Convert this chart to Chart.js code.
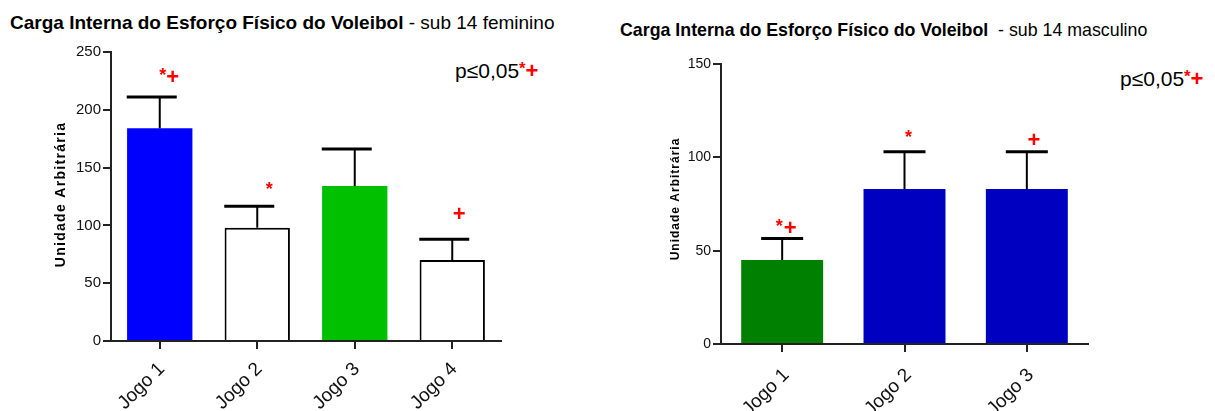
<!DOCTYPE html>
<html>
<head>
<meta charset="utf-8">
<script src="https://cdn.jsdelivr.net/npm/chart.js@4.4.0/dist/chart.umd.min.js"></script>
<style>
  body { margin: 0; width: 1215px; height: 411px; background: #fff; position: relative; overflow: hidden;
         font-family: "Liberation Sans", Arial, sans-serif; }
  canvas { position: absolute; top: 0; }
  .titulo { position: absolute; white-space: nowrap; color: #000; line-height: 1; }
  .pval { position: absolute; white-space: nowrap; color: #000; line-height: 1; }
  .ast { color: #f00; font-weight: bold; font-size: 0.8em; position: relative; top: -0.25em; }
  .cruz { color: #f00; font-weight: bold; font-size: 1.05em; }
</style>
</head>
<body>
<div class="titulo" style="left:10px; top:13px; font-size:19px;"><b>Carga Interna do Esforço Físico do Voleibol</b> - sub 14 feminino</div>
<div class="titulo" style="left:620px; top:22px; font-size:17.8px;"><b>Carga Interna do Esforço Físico do Voleibol</b>&nbsp; - sub 14 masculino</div>
<div class="pval" style="left:455px; top:60px; font-size:21px;">p≤0,05<span class="ast">*</span><span class="cruz">+</span></div>
<div class="pval" style="left:1120px; top:68px; font-size:21px;">p≤0,05<span class="ast">*</span><span class="cruz">+</span></div>

<canvas id="graficoFem" width="600" height="411" style="left:0px"></canvas>
<canvas id="graficoMasc" width="610" height="411" style="left:605px"></canvas>

<script>
// sub 14 feminino
const jogosFem = ['Jogo 1', 'Jogo 2', 'Jogo 3', 'Jogo 4'];
const mediaFem = [184, 98, 134, 70];
const erroFem = [27, 18.5, 32, 18];
const asteriscoFem = [true, true, false, false];
const cruzFem = [true, false, false, true];
const ticksFem = [0, 50, 100, 150, 200, 250];

// sub 14 masculino
const jogosMasc = ['Jogo 1', 'Jogo 2', 'Jogo 3'];
const mediaMasc = [45, 83, 83];
const erroMasc = [11.5, 20, 20];
const asteriscoMasc = [true, true, false];
const cruzMasc = [true, false, true];
const ticksMasc = [0, 50, 100, 150];

const tituloY = 'Unidade Arbitrária';

const fonte = '"Liberation Sans", Arial, sans-serif';
Chart.defaults.font.family = fonte;
Chart.defaults.color = '#111';

// barras de erro (só para cima), marcas de significância e título do eixo y
const barrasErro = {
    id: 'barrasErro',
    afterDatasetsDraw(chart, args, opts) {
        const ctx = chart.ctx;
        const y = chart.scales.y;
        const meta = chart.getDatasetMeta(0);
        const dados = chart.data.datasets[0].data;
        ctx.save();
        meta.data.forEach((barra, i) => {
            const topo = y.getPixelForValue(dados[i] + opts.erros[i]);
            ctx.strokeStyle = '#000';
            ctx.lineWidth = 2;
            ctx.beginPath();
            ctx.moveTo(barra.x, barra.y);
            ctx.lineTo(barra.x, topo);
            ctx.stroke();
            ctx.lineWidth = 3;
            ctx.beginPath();
            ctx.moveTo(barra.x - opts.capEsq, topo);
            ctx.lineTo(barra.x + opts.capDir, topo);
            ctx.stroke();

            const est = opts.asterisco[i], cr = opts.cruz[i];
            ctx.fillStyle = '#f00';
            ctx.textAlign = 'center';
            ctx.textBaseline = 'middle';
            if (est) {
                const p = cr ? opts.parEstrela : opts.estrela;
                ctx.font = 'bold 18px ' + fonte;
                ctx.fillText('*', barra.x + p[0], topo + p[1] + 4);
            }
            if (cr) {
                const p = est ? opts.parCruz : opts.soCruz;
                ctx.font = 'bold 22px ' + fonte;
                ctx.fillText('+', barra.x + p[0], topo + p[1]);
            }
        });
        ctx.restore();
    },
    afterDraw(chart, args, opts) {
        const ctx = chart.ctx;
        const area = chart.chartArea;
        ctx.save();
        ctx.translate(opts.tituloX, (area.top + area.bottom) / 2 + opts.tituloDy);
        ctx.rotate(-Math.PI / 2);
        ctx.font = 'bold ' + opts.tituloFonte + 'px ' + fonte;
        ctx.letterSpacing = opts.tituloEsp + 'px';
        ctx.fillStyle = '#000';
        ctx.textAlign = 'center';
        ctx.textBaseline = 'middle';
        ctx.fillText(tituloY, 0, 0);
        ctx.restore();
    }
};

function montarGrafico(id, cfg) {
    const ctx = document.getElementById(id).getContext('2d');
    return new Chart(ctx, {
        type: 'bar',
        data: {
            labels: cfg.labels,
            datasets: [{
                data: cfg.valores,
                backgroundColor: cfg.cores,
                borderColor: '#000',
                borderWidth: cfg.bordas,
                barPercentage: 0.67,
                categoryPercentage: 1
            }]
        },
        options: {
            responsive: false,
            animation: false,
            devicePixelRatio: 1,
            layout: { padding: cfg.padding },
            scales: {
                x: {
                    grid: { display: true, drawOnChartArea: false, offset: false, tickLength: 8, color: '#222', lineWidth: 2 },
                    border: { color: '#222', width: 2 },
                    ticks: { font: { size: 19 }, color: '#111', minRotation: 45, maxRotation: 45, padding: cfg.padX, labelOffset: cfg.desvioX },
                    afterFit: (s) => { s.height = cfg.alturaX; }
                },
                y: {
                    min: 0,
                    max: cfg.ticks[cfg.ticks.length - 1],
                    afterBuildTicks: (s) => { s.ticks = cfg.ticks.map(v => ({ value: v })); },
                    grid: { display: true, drawOnChartArea: false, tickLength: 8, color: '#222', lineWidth: 2 },
                    border: { color: '#222', width: 2 },
                    ticks: { font: { size: cfg.fonteY }, color: '#111', padding: 2 },
                    afterFit: (s) => { s.width = cfg.larguraY; }
                }
            },
            plugins: {
                legend: { display: false },
                tooltip: { enabled: false },
                barrasErro: cfg.erro
            }
        },
        plugins: [barrasErro]
    });
}

montarGrafico('graficoFem', {
    labels: jogosFem,
    valores: mediaFem,
    cores: ['#0000FF', '#FFFFFF', '#00C000', '#FFFFFF'],
    bordas: [0, 2, 0, 2],
    ticks: ticksFem,
    padding: { top: 52, right: 99, left: 0, bottom: 0 },
    alturaX: 70,
    larguraY: 111,
    fonteY: 15,
    padX: 9,
    desvioX: 2,
    erro: {
        erros: erroFem, asterisco: asteriscoFem, cruz: cruzFem,
        capEsq: 33, capDir: 17,
        parEstrela: [3, -25], parCruz: [13, -19], estrela: [12, -20], soCruz: [7, -24],
        tituloX: 61, tituloDy: -2, tituloFonte: 14, tituloEsp: 1.3
    }
});

montarGrafico('graficoMasc', {
    labels: jogosMasc,
    valores: mediaMasc,
    cores: ['#008000', '#0000C0', '#0000C0'],
    bordas: [0, 0, 0],
    ticks: ticksMasc,
    padding: { top: 64, right: 127, left: 0, bottom: 0 },
    alturaX: 67,
    larguraY: 116,
    fonteY: 14,
    padX: 12,
    desvioX: 4,
    erro: {
        erros: erroMasc, asterisco: asteriscoMasc, cruz: cruzMasc,
        capEsq: 21, capDir: 21,
        parEstrela: [-3, -16], parCruz: [8, -10], estrela: [4, -18], soCruz: [7, -11],
        tituloX: 71, tituloDy: -5, tituloFonte: 12, tituloEsp: 1
    }
});
</script>
</body>
</html>
